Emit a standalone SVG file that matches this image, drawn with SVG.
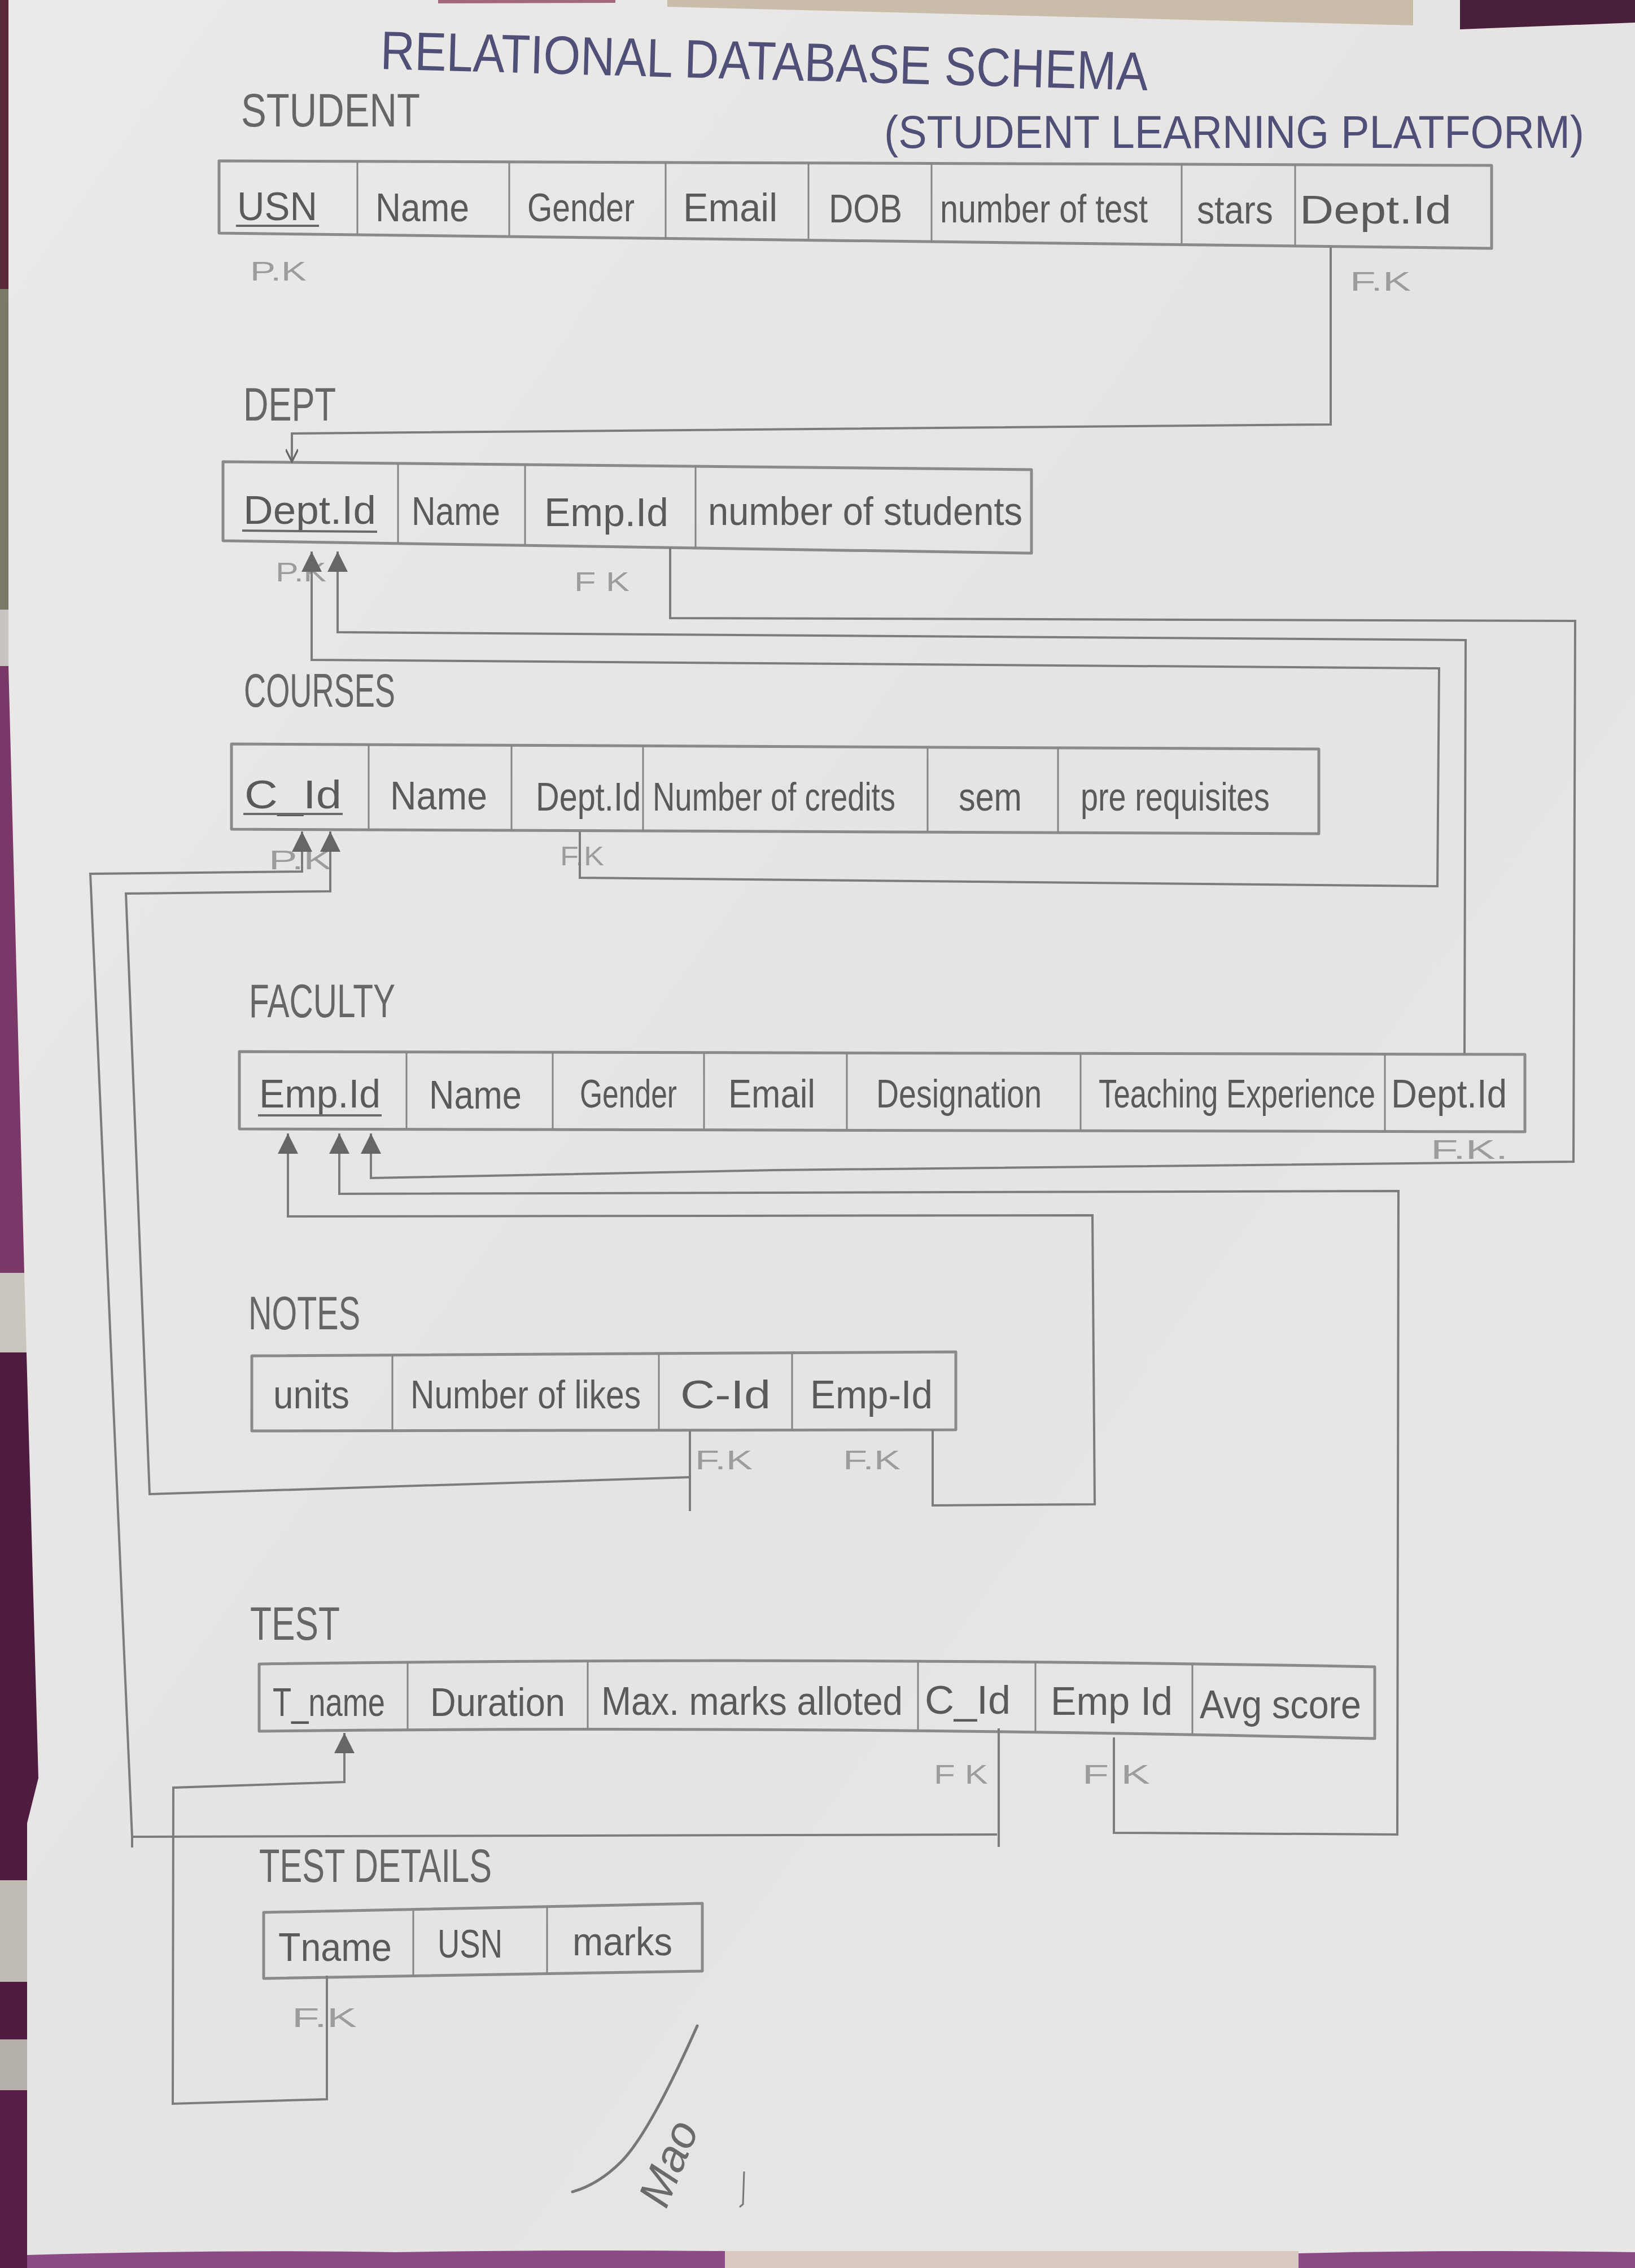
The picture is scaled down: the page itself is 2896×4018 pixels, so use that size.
<svg xmlns="http://www.w3.org/2000/svg" width="2896" height="4018" viewBox="0 0 2896 4018">
  <defs>
    <style>
      text { font-family: "Liberation Sans Narrow", "Liberation Sans", sans-serif; }
      .cell { font-size: 70px; fill: #5a5a5a; }
      .lbl { font-size: 84px; fill: #666; }
      .ttl { font-size: 96px; fill: #4f4f78; }
      .sub { font-size: 82px; fill: #4f4f78; }
      .key { font-size: 48px; fill: #9c9c9c; }
      .tbl { fill: none; stroke: #8a8a8a; stroke-width: 5; stroke-linejoin: round; }
      .div { stroke: #858585; stroke-width: 3; }
      .ul { stroke: #6a6a6a; stroke-width: 4; }
      .wire { fill: none; stroke: #7c7c7c; stroke-width: 4; stroke-linejoin: miter; }
    </style>
    <linearGradient id="paperShade" x1="0" y1="0" x2="1" y2="1">
      <stop offset="0" stop-color="#ebeae8"/>
      <stop offset="0.5" stop-color="#e5e4e2"/>
      <stop offset="1" stop-color="#e8e7e5"/>
    </linearGradient>
    <marker id="ah" viewBox="0 0 10 10" refX="10" refY="5" markerWidth="36" markerHeight="44" markerUnits="userSpaceOnUse" orient="auto">
      <path d="M0,0 L10,5 L0,10 Z" fill="#666"/>
    </marker>
    <marker id="ahThin" viewBox="0 0 10 10" refX="10" refY="5" markerWidth="28" markerHeight="22" markerUnits="userSpaceOnUse" orient="auto">
      <path d="M0,0 L10,5 L0,10" fill="none" stroke="#666" stroke-width="1.5"/>
    </marker>
    <clipPath id="leftCloth">
      <polygon points="0,0 15,0 15,1180 43,2255 68,3150 48,3230 48,4018 0,4018"/>
    </clipPath>
  </defs>

  <!-- backdrop cloth and paper sheet -->
  <rect x="0" y="0" width="2896" height="4018" fill="url(#paperShade)"/>
  <g clip-path="url(#leftCloth)">
    <rect x="0" y="0" width="80" height="512" fill="#5a2a3c"/>
    <rect x="0" y="512" width="80" height="568" fill="#7c7868"/>
    <rect x="0" y="1080" width="80" height="100" fill="#c8c4c0"/>
    <rect x="0" y="1180" width="80" height="1075" fill="#7a3868"/>
    <rect x="0" y="2255" width="80" height="141" fill="#cbc6bd"/>
    <rect x="0" y="2396" width="80" height="935" fill="#4e1c40"/>
    <rect x="0" y="3331" width="80" height="180" fill="#bfbab2"/>
    <rect x="0" y="3511" width="80" height="102" fill="#4e1c40"/>
    <rect x="0" y="3613" width="80" height="90" fill="#b5b0a8"/>
    <rect x="0" y="3703" width="80" height="315" fill="#561f48"/>
  </g>
  <polygon points="1182,0 2503,0 2503,45 1182,12" fill="#c9bca8"/>
  <polygon points="2586,0 2896,0 2896,40 2586,52" fill="#4a1f3c"/>
  <polygon points="776,0 1090,0 1090,5 776,6" fill="#a06878"/>
  <path d="M48,3995 Q400,3985 700,3990 Q1000,3985 1284,3988 L1284,4018 L48,4018 Z" fill="#8c4a86"/>
  <rect x="1284" y="3988" width="1016" height="30" fill="#d8c8c0"/>
  <path d="M2300,3992 Q2600,3985 2896,3990 L2896,4018 L2300,4018 Z" fill="#8c4a86"/>

  <!-- headings -->
  <text class="ttl" x="673" y="122" textLength="1360" lengthAdjust="spacingAndGlyphs" transform="rotate(1.6 673 122)">RELATIONAL  DATABASE  SCHEMA</text>
  <text class="sub" x="1566" y="262" textLength="1240" lengthAdjust="spacingAndGlyphs">(STUDENT LEARNING PLATFORM)</text>

  <!-- STUDENT -->
  <g id="student">
    <text class="lbl" x="427" y="224" textLength="317" lengthAdjust="spacingAndGlyphs">STUDENT</text>
    <path class="tbl" d="M388 285 L2642 293 L2642 440 L388 413 Z"/>
    <path class="div" d="M633 286 V416 M902 287 V419 M1179 288 V422 M1432 289 V426 M1650 290 V428 M2093 291 V433 M2294 292 V436"/>
    <text class="cell" x="420" y="390" textLength="142" lengthAdjust="spacingAndGlyphs">USN</text>
    <line class="ul" x1="418" y1="400" x2="565" y2="400"/>
    <text class="cell" x="665" y="392" textLength="166" lengthAdjust="spacingAndGlyphs">Name</text>
    <text class="cell" x="934" y="392" textLength="190" lengthAdjust="spacingAndGlyphs">Gender</text>
    <text class="cell" x="1210" y="392" textLength="167" lengthAdjust="spacingAndGlyphs">Email</text>
    <text class="cell" x="1468" y="394" textLength="130" lengthAdjust="spacingAndGlyphs">DOB</text>
    <text class="cell" x="1665" y="394" textLength="368" lengthAdjust="spacingAndGlyphs">number of test</text>
    <text class="cell" x="2120" y="396" textLength="135" lengthAdjust="spacingAndGlyphs">stars</text>
    <text class="cell" x="2302" y="396" textLength="269" lengthAdjust="spacingAndGlyphs">Dept.Id</text>
    <text class="key" x="443" y="497" textLength="100" lengthAdjust="spacingAndGlyphs">P.K</text>
    <text class="key" x="2391" y="515" textLength="108" lengthAdjust="spacingAndGlyphs">F.K</text>
  </g>

  <!-- DEPT -->
  <g id="dept">
    <text class="lbl" x="431" y="745" textLength="164" lengthAdjust="spacingAndGlyphs">DEPT</text>
    <path class="tbl" d="M395 818 L1827 832 L1827 980 L395 958 Z"/>
    <path class="div" d="M705 821 V963 M930 823 V966 M1232 826 V971"/>
    <text class="cell" x="431" y="928" textLength="235" lengthAdjust="spacingAndGlyphs">Dept.Id</text>
    <line class="ul" x1="429" y1="940" x2="668" y2="942"/>
    <text class="cell" x="729" y="930" textLength="157" lengthAdjust="spacingAndGlyphs">Name</text>
    <text class="cell" x="964" y="932" textLength="220" lengthAdjust="spacingAndGlyphs">Emp.Id</text>
    <text class="cell" x="1254" y="930" textLength="557" lengthAdjust="spacingAndGlyphs">number of students</text>
    <text class="key" x="488" y="1030" textLength="90" lengthAdjust="spacingAndGlyphs">P.K</text>
    <text class="key" x="1017" y="1047" textLength="98" lengthAdjust="spacingAndGlyphs">F K</text>
  </g>

  <!-- COURSES -->
  <g id="courses">
    <text class="lbl" x="432" y="1252" textLength="268" lengthAdjust="spacingAndGlyphs">COURSES</text>
    <path class="tbl" d="M410 1318 L2336 1327 L2336 1477 L410 1469 Z"/>
    <path class="div" d="M653 1319 V1470 M906 1320 V1471 M1139 1321 V1472 M1643 1324 V1474 M1874 1325 V1475"/>
    <text class="cell" x="433" y="1432" textLength="172" lengthAdjust="spacingAndGlyphs">C_Id</text>
    <line class="ul" x1="431" y1="1442" x2="607" y2="1442"/>
    <text class="cell" x="691" y="1434" textLength="172" lengthAdjust="spacingAndGlyphs">Name</text>
    <text class="cell" x="949" y="1436" textLength="186" lengthAdjust="spacingAndGlyphs">Dept.Id</text>
    <text class="cell" x="1156" y="1436" textLength="430" lengthAdjust="spacingAndGlyphs">Number of credits</text>
    <text class="cell" x="1698" y="1436" textLength="112" lengthAdjust="spacingAndGlyphs">sem</text>
    <text class="cell" x="1914" y="1436" textLength="335" lengthAdjust="spacingAndGlyphs">pre requisites</text>
    <text class="key" x="476" y="1540" textLength="112" lengthAdjust="spacingAndGlyphs">P.K</text>
    <text class="key" x="992" y="1533" textLength="78" lengthAdjust="spacingAndGlyphs">F.K</text>
  </g>

  <!-- FACULTY -->
  <g id="faculty">
    <text class="lbl" x="441" y="1802" textLength="259" lengthAdjust="spacingAndGlyphs">FACULTY</text>
    <path class="tbl" d="M424 1863 L2701 1868 L2701 2005 L424 2000 Z"/>
    <path class="div" d="M720 1864 V2001 M979 1864 V2001 M1247 1865 V2002 M1500 1865 V2002 M1914 1866 V2003 M2453 1867 V2004"/>
    <text class="cell" x="459" y="1962" textLength="215" lengthAdjust="spacingAndGlyphs">Emp.Id</text>
    <line class="ul" x1="457" y1="1976" x2="676" y2="1976"/>
    <text class="cell" x="760" y="1964" textLength="164" lengthAdjust="spacingAndGlyphs">Name</text>
    <text class="cell" x="1027" y="1962" textLength="172" lengthAdjust="spacingAndGlyphs">Gender</text>
    <text class="cell" x="1290" y="1962" textLength="154" lengthAdjust="spacingAndGlyphs">Email</text>
    <text class="cell" x="1552" y="1962" textLength="293" lengthAdjust="spacingAndGlyphs">Designation</text>
    <text class="cell" x="1946" y="1962" textLength="490" lengthAdjust="spacingAndGlyphs">Teaching Experience</text>
    <text class="cell" x="2464" y="1962" textLength="205" lengthAdjust="spacingAndGlyphs">Dept.Id</text>
    <text class="key" x="2534" y="2053" textLength="137" lengthAdjust="spacingAndGlyphs">F.K.</text>
  </g>

  <!-- NOTES -->
  <g id="notes">
    <text class="lbl" x="440" y="2355" textLength="198" lengthAdjust="spacingAndGlyphs">NOTES</text>
    <path class="tbl" d="M446 2402 L1693 2395 L1693 2533 L446 2535 Z"/>
    <path class="div" d="M695 2401 V2535 M1167 2398 V2534 M1403 2397 V2534"/>
    <text class="cell" x="484" y="2495" textLength="135" lengthAdjust="spacingAndGlyphs">units</text>
    <text class="cell" x="727" y="2495" textLength="408" lengthAdjust="spacingAndGlyphs">Number of likes</text>
    <text class="cell" x="1205" y="2495" textLength="160" lengthAdjust="spacingAndGlyphs">C-Id</text>
    <text class="cell" x="1435" y="2495" textLength="217" lengthAdjust="spacingAndGlyphs">Emp-Id</text>
    <text class="key" x="1231" y="2603" textLength="102" lengthAdjust="spacingAndGlyphs">F.K</text>
    <text class="key" x="1493" y="2603" textLength="102" lengthAdjust="spacingAndGlyphs">F.K</text>
  </g>

  <!-- TEST -->
  <g id="test">
    <text class="lbl" x="443" y="2905" textLength="159" lengthAdjust="spacingAndGlyphs">TEST</text>
    <path class="tbl" d="M459 2948 Q1440 2934 2435 2953 L2435 3080 Q1440 3056 459 3067 Z"/>
    <path class="div" d="M722 2946 V3066 M1041 2944 V3064 M1626 2942 V3066 M1834 2943 V3068 M2112 2946 V3072"/>
    <text class="cell" x="483" y="3040" textLength="199" lengthAdjust="spacingAndGlyphs">T_name</text>
    <text class="cell" x="762" y="3040" textLength="239" lengthAdjust="spacingAndGlyphs">Duration</text>
    <text class="cell" x="1065" y="3038" textLength="534" lengthAdjust="spacingAndGlyphs">Max. marks alloted</text>
    <text class="cell" x="1638" y="3036" textLength="152" lengthAdjust="spacingAndGlyphs">C_Id</text>
    <text class="cell" x="1861" y="3038" textLength="216" lengthAdjust="spacingAndGlyphs">Emp Id</text>
    <text class="cell" x="2125" y="3044" textLength="286" lengthAdjust="spacingAndGlyphs">Avg score</text>
    <text class="key" x="1654" y="3160" textLength="96" lengthAdjust="spacingAndGlyphs">F K</text>
    <text class="key" x="1917" y="3160" textLength="120" lengthAdjust="spacingAndGlyphs">F K</text>
  </g>

  <!-- TEST DETAILS -->
  <g id="test-details">
    <text class="lbl" x="459" y="3334" textLength="412" lengthAdjust="spacingAndGlyphs">TEST DETAILS</text>
    <path class="tbl" d="M467 3388 L1244 3372 L1244 3492 L467 3505 Z"/>
    <path class="div" d="M732 3383 V3501 M969 3378 V3497"/>
    <text class="cell" x="493" y="3474" textLength="201" lengthAdjust="spacingAndGlyphs">Tname</text>
    <text class="cell" x="775" y="3468" textLength="115" lengthAdjust="spacingAndGlyphs">USN</text>
    <text class="cell" x="1014" y="3464" textLength="177" lengthAdjust="spacingAndGlyphs">marks</text>
    <text class="key" x="517" y="3591" textLength="115" lengthAdjust="spacingAndGlyphs">F.K</text>
  </g>

  <!-- foreign key connectors -->
  <g id="connectors">
    <!-- STUDENT.Dept.Id -> DEPT.Dept.Id -->
    <path class="wire" stroke-width="3" marker-end="url(#ahThin)" d="M2357 438 L2357 752 L517 768 L517 818"/>
    <!-- COURSES.Dept.Id -> DEPT.Dept.Id -->
    <path class="wire" marker-end="url(#ah)" d="M1027 1473 L1027 1555 L2546 1570 L2549 1184 L552 1169 L552 977"/>
    <!-- FACULTY.Dept.Id -> DEPT.Dept.Id -->
    <path class="wire" marker-end="url(#ah)" d="M2594 1866 L2596 1134 L598 1120 L598 977"/>
    <!-- DEPT.Emp.Id -> FACULTY.Emp.Id -->
    <path class="wire" marker-end="url(#ah)" d="M1187 970 L1187 1095 L2790 1100 L2787 2058 L1371 2073 L657 2087 L657 2008"/>
    <!-- NOTES.Emp-Id -> FACULTY.Emp.Id -->
    <path class="wire" marker-end="url(#ah)" d="M1652 2533 L1652 2667 L1939 2665 L1935 2153 L510 2155 L510 2008"/>
    <!-- TEST.Emp Id -> FACULTY.Emp.Id -->
    <path class="wire" marker-end="url(#ah)" d="M1973 3078 L1973 3247 L2475 3250 L2477 2110 L601 2115 L601 2008"/>
    <!-- NOTES.C-Id -> COURSES.C_Id -->
    <path class="wire" d="M1222 2535 L1222 2677"/>
    <path class="wire" marker-end="url(#ah)" d="M1222 2617 L265 2647 L223 1583 L585 1579 L585 1473"/>
    <!-- TEST.C_Id -> COURSES.C_Id -->
    <path class="wire" d="M1769 3062 L1769 3272"/>
    <path class="wire" d="M234 3252 L234 3273"/>
    <path class="wire" marker-end="url(#ah)" d="M1766 3250 L234 3254 L160 1548 L535 1544 L535 1473"/>
    <!-- TEST DETAILS.Tname -> TEST.T_name -->
    <path class="wire" marker-end="url(#ah)" d="M579 3500 L579 3719 L306 3727 L307 3167 L610 3157 L610 3070"/>
  </g>

  <!-- signature -->
  <path d="M1235 3589 Q1150 3780 1100 3830 Q1060 3870 1014 3883" fill="none" stroke="#777" stroke-width="5" stroke-linecap="round"/>
  <text x="1180" y="3915" font-size="80" fill="#6a6a6a" font-style="italic" transform="rotate(-68 1180 3915)">Mao</text>
  <path d="M1318 3847 L1316 3905 L1310 3910" fill="none" stroke="#777" stroke-width="3"/>
</svg>
